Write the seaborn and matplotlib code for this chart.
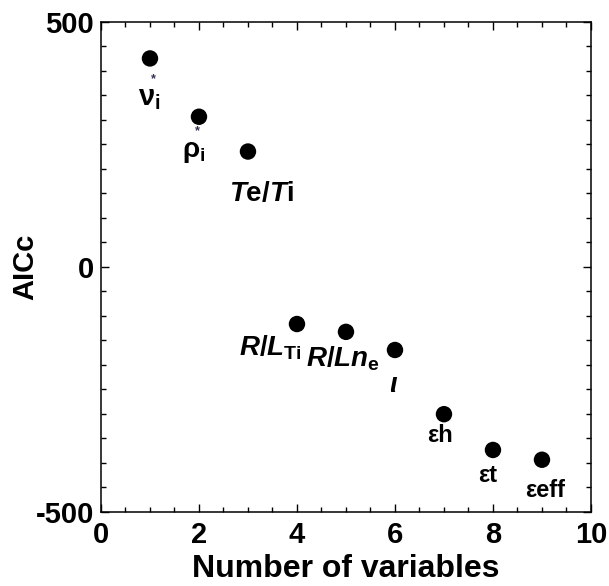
import matplotlib
matplotlib.use("Agg")
import matplotlib.pyplot as plt
from matplotlib.ticker import MultipleLocator
import pandas as pd
import seaborn as sns

# Model selection: AICc against the number of variables in the regression
n_variables = [1, 2, 3, 4, 5, 6, 7, 8, 9]
aicc = [425, 306, 235, -117, -133, -170, -301, -374, -394]
var_labels = [r"$\mathrm{\nu}_{\mathrm{i}}$", r"$\mathrm{\rho}_{\mathrm{i}}$",
              r"$T\mathrm{e}/T\mathrm{i}$", r"$R/L_{\mathrm{Ti}}$",
              r"$R/Ln_{\mathrm{e}}$", "ι", "εh", "εt", "εeff"]
starred = [True, True, False, False, False, False, False, False, False]

x_ticks = [0, 2, 4, 6, 8, 10]
y_ticks = [-500, 0, 500]

df = pd.DataFrame({"n": n_variables, "AICc": aicc})

sns.set_theme(style="ticks")
plt.rcParams["font.family"] = ["Liberation Sans", "DejaVu Sans"]
plt.rcParams["font.weight"] = "bold"
plt.rcParams["axes.unicode_minus"] = False
plt.rcParams["text.color"] = "black"
plt.rcParams["axes.labelcolor"] = "black"
plt.rcParams["xtick.color"] = "black"
plt.rcParams["ytick.color"] = "black"
plt.rcParams["mathtext.fontset"] = "custom"
plt.rcParams["mathtext.rm"] = "Liberation Sans:bold"
plt.rcParams["mathtext.it"] = "Liberation Sans:italic:bold"
plt.rcParams["mathtext.bf"] = "Liberation Sans:bold"

fig = plt.figure(figsize=(6.09, 5.86), dpi=100)
ax = fig.add_axes([0.1658, 0.1268, 0.8046, 0.8362])

sns.scatterplot(data=df, x="n", y="AICc", ax=ax, color="black", s=140,
                edgecolor="none", legend=False, zorder=3)

# label placement, in pixels relative to each point
label_offsets = [(-1, -47), (-5, -40), (13, -49), (-27, -31), (-3, -35),
                 (-2, -42), (-4, -28), (-5, -32), (3, -37)]
label_sizes = [21, 20, 20, 20, 20, 20, 17, 17, 17]
star_offsets = [(3, -21), (-2, -14)]

si = 0
for x, y, txt, (dx, dy), fs, st in zip(n_variables, aicc, var_labels,
                                      label_offsets, label_sizes, starred):
    kw = {}
    if txt == "ι":
        kw = {"style": "italic"}
    ax.annotate(txt, xy=(x, y), xytext=(dx, dy), textcoords="offset pixels",
                ha="center", va="baseline", fontsize=fs, fontweight="bold",
                color="black", **kw)
    if st:
        sdx, sdy = star_offsets[si]
        si += 1
        ax.annotate("*", xy=(x, y), xytext=(sdx, sdy), textcoords="offset pixels",
                    ha="center", va="center", fontsize=9, color="#333355")

ax.set_xlim(0, 10)
ax.set_ylim(-500, 500)
ax.set_xticks(x_ticks)
ax.set_yticks(y_ticks)
ax.xaxis.set_minor_locator(MultipleLocator(0.5))
ax.yaxis.set_minor_locator(MultipleLocator(50))
ax.tick_params(which="both", direction="in", top=True, right=True,
               width=1.0, color="black")
ax.tick_params(which="major", length=6, labelsize=21, pad=5)
ax.tick_params(axis="x", which="major", pad=7)
ax.tick_params(which="minor", length=3.6)
for lab in ax.get_xticklabels() + ax.get_yticklabels():
    lab.set_fontweight("bold")
    lab.set_color("black")
for sp in ax.spines.values():
    sp.set_linewidth(1.1)
    sp.set_color("black")

ax.set_xlabel("Number of variables", fontsize=23, fontweight="bold", labelpad=3)
ax.set_ylabel("AICc", fontsize=21, fontweight="bold")
ax.yaxis.set_label_coords(-0.125, 0.5)

fig.savefig("out.png", dpi=100, facecolor="white")
